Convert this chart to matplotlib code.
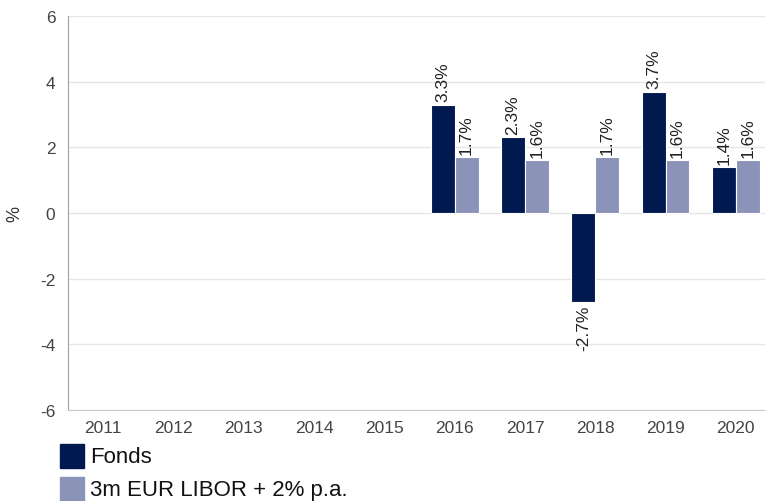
import numpy as np
import matplotlib.pyplot as plt
from matplotlib.patches import Rectangle

plt.rcParams['font.family'] = ['Liberation Sans', 'DejaVu Sans']
plt.rcParams['axes.unicode_minus'] = False

years = ['2011', '2012', '2013', '2014', '2015', '2016', '2017', '2018', '2019', '2020']
fonds = [np.nan, np.nan, np.nan, np.nan, np.nan, 3.3, 2.3, -2.7, 3.7, 1.4]
bench = [np.nan, np.nan, np.nan, np.nan, np.nan, 1.7, 1.6, 1.7, 1.6, 1.6]
series_names = ['Fonds', '3m EUR LIBOR + 2% p.a.']
colors = ['#001a4f', '#8b93b8']

fig = plt.figure(figsize=(7.65, 5.02), dpi=100)
ax = fig.add_axes([68 / 765, 1 - 411 / 502, 703 / 765, 394 / 502])

x = np.arange(len(years))
w = 0.34
for vals, off, c in [(fonds, -w / 2, colors[0]), (bench, w / 2, colors[1])]:
    bars = ax.bar(x + off, vals, width=w, color=c, edgecolor='white', linewidth=0.8, zorder=3)
    for xi, v in zip(x + off, vals):
        if np.isnan(v):
            continue
        if v >= 0:
            ax.text(xi, v + 0.1, f'{v:.1f}%', rotation=90, ha='center', va='bottom',
                    fontsize=12.5, color='#222222')
        else:
            ax.text(xi, v - 0.1, f'{v:.1f}%', rotation=90, ha='center', va='top',
                    fontsize=12.5, color='#222222')

ax.set_xlim(-0.5, len(years) - 0.5)
ax.set_ylim(-6, 6)
ax.set_yticks([-6, -4, -2, 0, 2, 4, 6])
ax.set_xticks(x)
ax.set_xticklabels(years)
ax.tick_params(axis='both', length=0, labelsize=12.5, colors='#444444')
ax.tick_params(axis='x', pad=7)
ax.tick_params(axis='y', pad=9)
ax.grid(axis='y', color='#e6e6e6', linewidth=1, zorder=0)
for s in ['top', 'right']:
    ax.spines[s].set_visible(False)
ax.spines['left'].set_color('#a0a0a0')
ax.spines['bottom'].set_color('#c8c8c8')
fig.text(15 / 765, 1 - 214 / 502, '%', rotation=90, fontsize=13, color='#333333',
         ha='center', va='center')

# legend
for i, (name, c) in enumerate(zip(series_names, colors)):
    top = 445 + i * 33
    fig.add_artist(Rectangle((60 / 765, 1 - (top + 24) / 502), 24 / 765, 24 / 502,
                             transform=fig.transFigure, color=c))
    fig.text(90 / 765, 1 - (top + 13) / 502, name, fontsize=16, color='#111111', va='center')

plt.savefig('out.png', dpi=100)
